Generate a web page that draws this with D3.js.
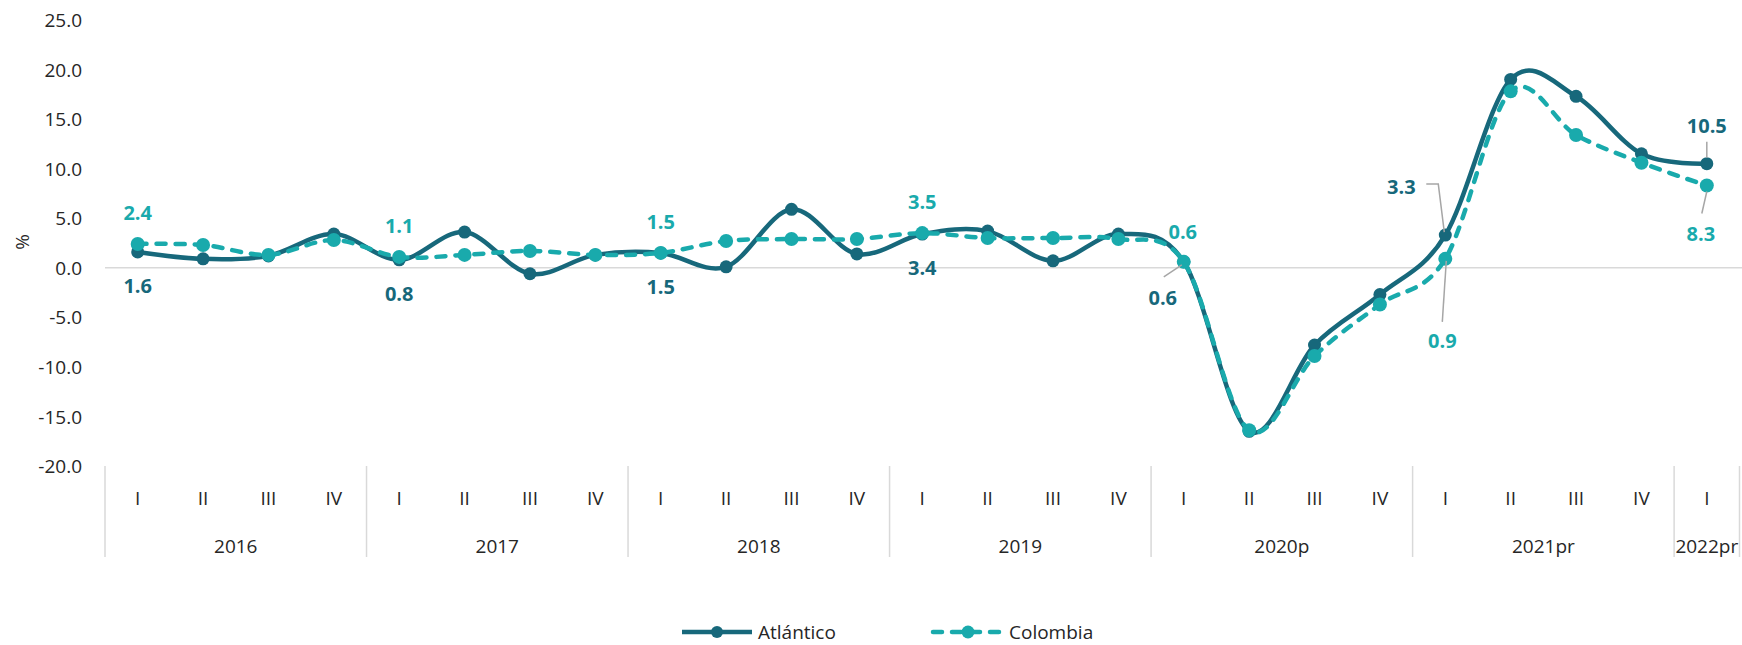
<!DOCTYPE html>
<html>
<head>
<meta charset="utf-8">
<script src="https://cdn.jsdelivr.net/npm/d3@7/dist/d3.min.js"></script>
<style>
  html, body { margin: 0; padding: 0; background: #fff; }
  svg { display: block; font-family: "Open Sans", "Noto Sans", sans-serif; }
</style>
</head>
<body>
<svg id="chart" width="1742" height="645"></svg>
<script>
// ---------------- data ----------------
const years = ["2016", "2017", "2018", "2019", "2020p", "2021pr", "2022pr"];
const quartersPerYear = [4, 4, 4, 4, 4, 4, 1];
const quarterNames = ["I", "II", "III", "IV"];
const yTicks = [-20, -15, -10, -5, 0, 5, 10, 15, 20, 25];

const atlantico = [1.6, 0.9, 1.2, 3.4, 0.8, 3.6, -0.6, 1.3, 1.5, 0.1, 5.9, 1.4,
                   3.4, 3.7, 0.7, 3.4, 0.6, -16.5, -7.8, -2.7, 3.3, 19.0, 17.3, 11.5, 10.5];
const colombia  = [2.4, 2.3, 1.3, 2.8, 1.1, 1.3, 1.7, 1.3, 1.5, 2.7, 2.9, 2.9,
                   3.5, 3.0, 3.0, 2.9, 0.6, -16.4, -8.9, -3.7, 0.9, 17.8, 13.4, 10.6, 8.3];
const labelledIdx = [0, 4, 8, 12, 16, 20, 24];
const seriesNames = ["Atlántico", "Colombia"];

(function () {
// ---------------- build categories ----------------
const cats = [];
years.forEach((yName, yi) => {
  for (let q = 0; q < quartersPerYear[yi]; q++) cats.push({ year: yName, q: quarterNames[q], yi });
});
const idx = d3.range(cats.length);

// ---------------- layout / style ----------------
const C_ATL = "#17687B", C_COL = "#19AAAC", C_GRID = "#d9d9d9", C_LEAD = "#a6a6a6", C_TXT = "#262626";
const pL = 105, pR = 1739.5, pT = 20, pB = 466;

const svg = d3.select("#chart");
const x = d3.scaleBand().domain(idx).range([pL, pR]).paddingInner(0).paddingOuter(0);
const y = d3.scaleLinear().domain([-20, 25]).range([pB, pT]);
const cx = i => x(i) + x.bandwidth() / 2;
const fmt = v => v.toFixed(1);

// y axis labels
const yAxis = d3.axisLeft(y).tickValues(yTicks).tickFormat(fmt).tickSize(0).tickPadding(0);
const gy = svg.append("g").attr("transform", "translate(82,0)").call(yAxis);
gy.select(".domain").remove();
gy.attr("font-family", null).attr("font-size", null);
gy.selectAll("text").attr("fill", C_TXT).style("font-size", "19px").attr("dy", "0.35em");

// % title
svg.append("text").attr("transform", "translate(22,242) rotate(-90)")
  .attr("text-anchor", "middle").attr("dy", "0.35em")
  .attr("fill", C_TXT).style("font-size", "19px").text("%");

// zero line
svg.append("line").attr("x1", pL).attr("x2", 1742).attr("y1", y(0)).attr("y2", y(0))
  .attr("stroke", C_GRID).attr("stroke-width", 1.5);

// x axis: quarter labels
const xAxis = d3.axisBottom(x).tickFormat(i => cats[i].q).tickSize(0).tickPadding(0);
const gx = svg.append("g").attr("transform", `translate(0,${pB})`).call(xAxis);
gx.select(".domain").remove();
gx.attr("font-family", null).attr("font-size", null);
gx.selectAll("text").attr("fill", C_TXT).style("font-size", "19px")
  .attr("y", 32).attr("dy", "0.35em");

// year separators and labels
let start = 0;
const yearGroups = years.map((yName, yi) => {
  const g = { name: yName, first: start, last: start + quartersPerYear[yi] - 1 };
  start += quartersPerYear[yi];
  return g;
});
const sepX = [x(0)].concat(yearGroups.map(g => x(g.last) + x.bandwidth()));
svg.append("g").selectAll("line").data(sepX).join("line")
  .attr("x1", d => d).attr("x2", d => d).attr("y1", pB).attr("y2", 557)
  .attr("stroke", C_GRID).attr("stroke-width", 1.5);
svg.append("g").selectAll("text").data(yearGroups).join("text")
  .attr("x", g => (x(g.first) + x(g.last) + x.bandwidth()) / 2)
  .attr("y", 546).attr("dy", "0.35em").attr("text-anchor", "middle")
  .attr("fill", C_TXT).style("font-size", "19px").text(g => g.name);

// lines
const line = d3.line().x((d, i) => cx(i)).y(d => y(d)).curve(d3.curveCatmullRom.alpha(0));
svg.append("path").datum(atlantico).attr("d", line).attr("fill", "none")
  .attr("stroke", C_ATL).attr("stroke-width", 4.5).attr("stroke-linejoin", "round");
svg.append("g").selectAll("circle").data(atlantico).join("circle")
  .attr("cx", (d, i) => cx(i)).attr("cy", d => y(d)).attr("r", 6.5).attr("fill", C_ATL);

svg.append("path").datum(colombia).attr("d", line).attr("fill", "none")
  .attr("stroke", C_COL).attr("stroke-width", 4.5).attr("stroke-dasharray", "9,10")
  .attr("stroke-linecap", "round");
svg.append("g").selectAll("circle").data(colombia).join("circle")
  .attr("cx", (d, i) => cx(i)).attr("cy", d => y(d)).attr("r", 7).attr("fill", C_COL);

// data labels (offsets are pure layout)
const atlOff = { 0: [0, 34], 4: [0, 34], 8: [0, 34], 12: [0, 34], 16: [-21, 36], 20: [-44, -48], 24: [0, -38] };
const colOff = { 0: [0, -31], 4: [0, -31], 8: [0, -31], 12: [0, -31], 16: [-1, -30], 20: [-3, 82], 24: [-6, 48] };
function addLabels(vals, off, color) {
  svg.append("g").selectAll("text").data(labelledIdx).join("text")
    .attr("x", i => cx(i) + off[i][0]).attr("y", i => y(vals[i]) + off[i][1])
    .attr("dy", "0.35em").attr("text-anchor", "middle")
    .attr("fill", color).style("font-size", "20px").style("font-weight", "700")
    .text(i => fmt(vals[i]));
}
// leader lines
const leaders = [
  [[cx(16) - 20, y(atlantico[16]) + 15], [cx(16) - 2, y(atlantico[16]) + 3]],
  [[cx(20) - 19, y(atlantico[20]) - 51], [cx(20) - 7, y(atlantico[20]) - 51], [cx(20) - 1, y(atlantico[20]) - 3]],
  [[cx(20) + 1, y(colombia[20]) + 2], [cx(20) - 3, y(colombia[20]) + 63]],
  [[cx(24), y(atlantico[24]) - 22], [cx(24), y(atlantico[24]) - 6]],
  [[cx(24), y(colombia[24]) + 6], [cx(24) - 5, y(colombia[24]) + 28]]
];
svg.append("g").selectAll("path").data(leaders).join("path")
  .attr("d", d => d3.line()(d)).attr("fill", "none")
  .attr("stroke", C_LEAD).attr("stroke-width", 1.5);
addLabels(atlantico, atlOff, C_ATL);
addLabels(colombia, colOff, C_COL);

// legend
const legend = [
  { name: seriesNames[0], color: C_ATL, x0: 682, dash: null, r: 6 },
  { name: seriesNames[1], color: C_COL, x0: 933, dash: "9,10", r: 6.5 }
];
const ly = 632;
const lg = svg.append("g").selectAll("g").data(legend).join("g");
lg.append("line").attr("x1", d => d.x0).attr("x2", d => d.x0 + 70).attr("y1", ly).attr("y2", ly)
  .attr("stroke", d => d.color).attr("stroke-width", 4.5)
  .attr("stroke-dasharray", d => d.dash).attr("stroke-linecap", d => d.dash ? "round" : "butt");
lg.append("circle").attr("cx", d => d.x0 + 35).attr("cy", ly).attr("r", d => d.r).attr("fill", d => d.color);
lg.append("text").attr("x", d => d.x0 + 76).attr("y", ly).attr("dy", "0.35em")
  .attr("fill", C_TXT).style("font-size", "19px").text(d => d.name);
})();
</script>
</body>
</html>
